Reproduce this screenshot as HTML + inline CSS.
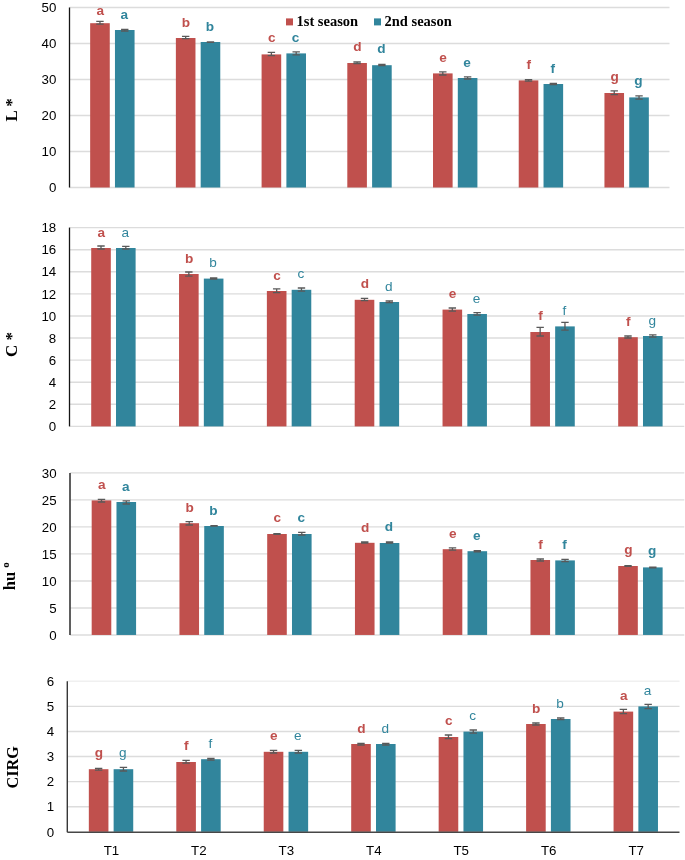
<!DOCTYPE html>
<html><head><meta charset="utf-8"><style>
html,body{margin:0;padding:0;background:#fff;}
svg{display:block;will-change:transform;}
.tk{font-family:"Liberation Sans",sans-serif;font-size:13.3px;fill:#000;}
.lb{font-family:"Liberation Sans",sans-serif;font-size:13.6px;}
.tt{font-family:"Liberation Serif",serif;font-size:17px;font-weight:bold;fill:#000;}
.lg{font-family:"Liberation Serif",serif;font-size:14.5px;font-weight:bold;fill:#000;}
</style></head><body>
<svg width="685" height="860" viewBox="0 0 685 860">
<rect x="0" y="0" width="685" height="860" fill="#fff"/>

<line x1="69.5" y1="7.5" x2="669.5" y2="7.5" stroke="#DCDCDC" stroke-width="1.4"/>
<text class="tk" x="56.4" y="12.2" text-anchor="end">50</text>
<line x1="69.5" y1="43.5" x2="669.5" y2="43.5" stroke="#DCDCDC" stroke-width="1.4"/>
<text class="tk" x="56.4" y="48.2" text-anchor="end">40</text>
<line x1="69.5" y1="79.5" x2="669.5" y2="79.5" stroke="#DCDCDC" stroke-width="1.4"/>
<text class="tk" x="56.4" y="84.2" text-anchor="end">30</text>
<line x1="69.5" y1="115.5" x2="669.5" y2="115.5" stroke="#DCDCDC" stroke-width="1.4"/>
<text class="tk" x="56.4" y="120.2" text-anchor="end">20</text>
<line x1="69.5" y1="151.5" x2="669.5" y2="151.5" stroke="#DCDCDC" stroke-width="1.4"/>
<text class="tk" x="56.4" y="156.2" text-anchor="end">10</text>
<line x1="69.5" y1="187.5" x2="669.5" y2="187.5" stroke="#DCDCDC" stroke-width="1.4"/>
<text class="tk" x="56.4" y="192.2" text-anchor="end">0</text>
<rect x="90.16" y="23.2" width="19.6" height="164.3" fill="#C0504D"/>
<rect x="114.96" y="30" width="19.6" height="157.5" fill="#31859C"/>
<path d="M96.26 21.4H103.66M99.96 21.4V24.2M96.26 24.2H103.66" stroke="#595959" stroke-width="1.3" fill="none"/>
<path d="M121.06 29.4H128.46M124.76 29.4V31M121.06 31H128.46" stroke="#595959" stroke-width="1.3" fill="none"/>
<text class="lb" x="100.26" y="14.7" text-anchor="middle" font-weight="bold" fill="#C0504D">a</text>
<text class="lb" x="124.16" y="18.7" text-anchor="middle" font-weight="bold" fill="#31859C">a</text>
<rect x="175.87" y="38" width="19.6" height="149.5" fill="#C0504D"/>
<rect x="200.67" y="42" width="19.6" height="145.5" fill="#31859C"/>
<path d="M181.97 36.4H189.37M185.67 36.4V38.6M181.97 38.6H189.37" stroke="#595959" stroke-width="1.3" fill="none"/>
<path d="M206.77 41.8H214.17M210.47 41.8V42.4M206.77 42.4H214.17" stroke="#595959" stroke-width="1.3" fill="none"/>
<text class="lb" x="185.97" y="26.7" text-anchor="middle" font-weight="bold" fill="#C0504D">b</text>
<text class="lb" x="209.87" y="30.7" text-anchor="middle" font-weight="bold" fill="#31859C">b</text>
<rect x="261.59" y="54.4" width="19.6" height="133.1" fill="#C0504D"/>
<rect x="286.39" y="53.4" width="19.6" height="134.1" fill="#31859C"/>
<path d="M267.69 52.4H275.09M271.39 52.4V55.6M267.69 55.6H275.09" stroke="#595959" stroke-width="1.3" fill="none"/>
<path d="M292.49 51.8H299.89M296.19 51.8V54.8M292.49 54.8H299.89" stroke="#595959" stroke-width="1.3" fill="none"/>
<text class="lb" x="271.69" y="42.1" text-anchor="middle" font-weight="bold" fill="#C0504D">c</text>
<text class="lb" x="295.59" y="41.7" text-anchor="middle" font-weight="bold" fill="#31859C">c</text>
<rect x="347.3" y="63" width="19.6" height="124.5" fill="#C0504D"/>
<rect x="372.1" y="65.2" width="19.6" height="122.3" fill="#31859C"/>
<path d="M353.4 62H360.8M357.1 62V63.6M353.4 63.6H360.8" stroke="#595959" stroke-width="1.3" fill="none"/>
<path d="M378.2 64.4H385.6M381.9 64.4V65.6M378.2 65.6H385.6" stroke="#595959" stroke-width="1.3" fill="none"/>
<text class="lb" x="357.4" y="51.3" text-anchor="middle" font-weight="bold" fill="#C0504D">d</text>
<text class="lb" x="381.3" y="53.3" text-anchor="middle" font-weight="bold" fill="#31859C">d</text>
<rect x="433.01" y="73.4" width="19.6" height="114.1" fill="#C0504D"/>
<rect x="457.81" y="78" width="19.6" height="109.5" fill="#31859C"/>
<path d="M439.11 71.8H446.51M442.81 71.8V75M439.11 75H446.51" stroke="#595959" stroke-width="1.3" fill="none"/>
<path d="M463.91 76.8H471.31M467.61 76.8V79M463.91 79H471.31" stroke="#595959" stroke-width="1.3" fill="none"/>
<text class="lb" x="443.11" y="62.1" text-anchor="middle" font-weight="bold" fill="#C0504D">e</text>
<text class="lb" x="467.01" y="66.7" text-anchor="middle" font-weight="bold" fill="#31859C">e</text>
<rect x="518.73" y="80.4" width="19.6" height="107.1" fill="#C0504D"/>
<rect x="543.53" y="84" width="19.6" height="103.5" fill="#31859C"/>
<path d="M524.83 79.6H532.23M528.53 79.6V81.2M524.83 81.2H532.23" stroke="#595959" stroke-width="1.3" fill="none"/>
<path d="M549.63 83.4H557.03M553.33 83.4V84.6M549.63 84.6H557.03" stroke="#595959" stroke-width="1.3" fill="none"/>
<text class="lb" x="528.83" y="68.7" text-anchor="middle" font-weight="bold" fill="#C0504D">f</text>
<text class="lb" x="552.73" y="72.7" text-anchor="middle" font-weight="bold" fill="#31859C">f</text>
<rect x="604.44" y="93" width="19.6" height="94.5" fill="#C0504D"/>
<rect x="629.24" y="97.4" width="19.6" height="90.1" fill="#31859C"/>
<path d="M610.54 90.8H617.94M614.24 90.8V94.6M610.54 94.6H617.94" stroke="#595959" stroke-width="1.3" fill="none"/>
<path d="M635.34 95.8H642.74M639.04 95.8V99.2M635.34 99.2H642.74" stroke="#595959" stroke-width="1.3" fill="none"/>
<text class="lb" x="614.54" y="81" text-anchor="middle" font-weight="bold" fill="#C0504D">g</text>
<text class="lb" x="638.44" y="85.4" text-anchor="middle" font-weight="bold" fill="#31859C">g</text>
<line x1="69.5" y1="7.5" x2="69.5" y2="187.5" stroke="#161616" stroke-width="1.3"/>
<text class="tt" transform="translate(16.8,109.8) rotate(-90)" text-anchor="middle">L *</text>
<line x1="69.5" y1="227.6" x2="684.3" y2="227.6" stroke="#DCDCDC" stroke-width="1.4"/>
<text class="tk" x="56.2" y="232.3" text-anchor="end">18</text>
<line x1="69.5" y1="249.69" x2="684.3" y2="249.69" stroke="#DCDCDC" stroke-width="1.4"/>
<text class="tk" x="56.2" y="254.39" text-anchor="end">16</text>
<line x1="69.5" y1="271.78" x2="684.3" y2="271.78" stroke="#DCDCDC" stroke-width="1.4"/>
<text class="tk" x="56.2" y="276.48" text-anchor="end">14</text>
<line x1="69.5" y1="293.87" x2="684.3" y2="293.87" stroke="#DCDCDC" stroke-width="1.4"/>
<text class="tk" x="56.2" y="298.57" text-anchor="end">12</text>
<line x1="69.5" y1="315.96" x2="684.3" y2="315.96" stroke="#DCDCDC" stroke-width="1.4"/>
<text class="tk" x="56.2" y="320.66" text-anchor="end">10</text>
<line x1="69.5" y1="338.04" x2="684.3" y2="338.04" stroke="#DCDCDC" stroke-width="1.4"/>
<text class="tk" x="56.2" y="342.74" text-anchor="end">8</text>
<line x1="69.5" y1="360.13" x2="684.3" y2="360.13" stroke="#DCDCDC" stroke-width="1.4"/>
<text class="tk" x="56.2" y="364.83" text-anchor="end">6</text>
<line x1="69.5" y1="382.22" x2="684.3" y2="382.22" stroke="#DCDCDC" stroke-width="1.4"/>
<text class="tk" x="56.2" y="386.92" text-anchor="end">4</text>
<line x1="69.5" y1="404.31" x2="684.3" y2="404.31" stroke="#DCDCDC" stroke-width="1.4"/>
<text class="tk" x="56.2" y="409.01" text-anchor="end">2</text>
<line x1="69.5" y1="426.4" x2="684.3" y2="426.4" stroke="#DCDCDC" stroke-width="1.4"/>
<text class="tk" x="56.2" y="431.1" text-anchor="end">0</text>
<rect x="91.21" y="248" width="19.6" height="178.4" fill="#C0504D"/>
<rect x="116.01" y="248" width="19.6" height="178.4" fill="#31859C"/>
<path d="M97.31 246H104.71M101.01 246V249M97.31 249H104.71" stroke="#595959" stroke-width="1.3" fill="none"/>
<path d="M122.11 246.4H129.51M125.81 246.4V249M122.11 249H129.51" stroke="#595959" stroke-width="1.3" fill="none"/>
<text class="lb" x="101.31" y="236.7" text-anchor="middle" font-weight="bold" fill="#C0504D">a</text>
<text class="lb" x="125.21" y="236.7" text-anchor="middle" font-weight="normal" fill="#31859C">a</text>
<rect x="179.04" y="274" width="19.6" height="152.4" fill="#C0504D"/>
<rect x="203.84" y="278.6" width="19.6" height="147.8" fill="#31859C"/>
<path d="M185.14 272H192.54M188.84 272V276.2M185.14 276.2H192.54" stroke="#595959" stroke-width="1.3" fill="none"/>
<path d="M209.94 278H217.34M213.64 278V279M209.94 279H217.34" stroke="#595959" stroke-width="1.3" fill="none"/>
<text class="lb" x="189.14" y="262.7" text-anchor="middle" font-weight="bold" fill="#C0504D">b</text>
<text class="lb" x="213.04" y="267.3" text-anchor="middle" font-weight="normal" fill="#31859C">b</text>
<rect x="266.87" y="291" width="19.6" height="135.4" fill="#C0504D"/>
<rect x="291.67" y="289.8" width="19.6" height="136.6" fill="#31859C"/>
<path d="M272.97 288.8H280.37M276.67 288.8V292.6M272.97 292.6H280.37" stroke="#595959" stroke-width="1.3" fill="none"/>
<path d="M297.77 288H305.17M301.47 288V291.2M297.77 291.2H305.17" stroke="#595959" stroke-width="1.3" fill="none"/>
<text class="lb" x="276.97" y="279.7" text-anchor="middle" font-weight="bold" fill="#C0504D">c</text>
<text class="lb" x="300.87" y="278.3" text-anchor="middle" font-weight="normal" fill="#31859C">c</text>
<rect x="354.7" y="299.8" width="19.6" height="126.6" fill="#C0504D"/>
<rect x="379.5" y="302" width="19.6" height="124.4" fill="#31859C"/>
<path d="M360.8 298.4H368.2M364.5 298.4V300.6M360.8 300.6H368.2" stroke="#595959" stroke-width="1.3" fill="none"/>
<path d="M385.6 301H393M389.3 301V302.6M385.6 302.6H393" stroke="#595959" stroke-width="1.3" fill="none"/>
<text class="lb" x="364.8" y="288.1" text-anchor="middle" font-weight="bold" fill="#C0504D">d</text>
<text class="lb" x="388.7" y="290.7" text-anchor="middle" font-weight="normal" fill="#31859C">d</text>
<rect x="442.53" y="309.6" width="19.6" height="116.8" fill="#C0504D"/>
<rect x="467.33" y="314" width="19.6" height="112.4" fill="#31859C"/>
<path d="M448.63 308H456.03M452.33 308V311.2M448.63 311.2H456.03" stroke="#595959" stroke-width="1.3" fill="none"/>
<path d="M473.43 312.6H480.83M477.13 312.6V315.2M473.43 315.2H480.83" stroke="#595959" stroke-width="1.3" fill="none"/>
<text class="lb" x="452.63" y="298.1" text-anchor="middle" font-weight="bold" fill="#C0504D">e</text>
<text class="lb" x="476.53" y="302.7" text-anchor="middle" font-weight="normal" fill="#31859C">e</text>
<rect x="530.36" y="332" width="19.6" height="94.4" fill="#C0504D"/>
<rect x="555.16" y="326.4" width="19.6" height="100" fill="#31859C"/>
<path d="M536.46 327.4H543.86M540.16 327.4V336M536.46 336H543.86" stroke="#595959" stroke-width="1.3" fill="none"/>
<path d="M561.26 322.4H568.66M564.96 322.4V330.2M561.26 330.2H568.66" stroke="#595959" stroke-width="1.3" fill="none"/>
<text class="lb" x="540.46" y="320.1" text-anchor="middle" font-weight="bold" fill="#C0504D">f</text>
<text class="lb" x="564.36" y="314.7" text-anchor="middle" font-weight="normal" fill="#31859C">f</text>
<rect x="618.19" y="337.2" width="19.6" height="89.2" fill="#C0504D"/>
<rect x="642.99" y="336" width="19.6" height="90.4" fill="#31859C"/>
<path d="M624.29 336H631.69M627.99 336V338M624.29 338H631.69" stroke="#595959" stroke-width="1.3" fill="none"/>
<path d="M649.09 334.8H656.49M652.79 334.8V337.2M649.09 337.2H656.49" stroke="#595959" stroke-width="1.3" fill="none"/>
<text class="lb" x="628.29" y="325.7" text-anchor="middle" font-weight="bold" fill="#C0504D">f</text>
<text class="lb" x="652.19" y="324.6" text-anchor="middle" font-weight="normal" fill="#31859C">g</text>
<line x1="69.5" y1="227.6" x2="69.5" y2="426.4" stroke="#161616" stroke-width="1.3"/>
<text class="tt" transform="translate(17.3,344.5) rotate(-90)" text-anchor="middle">C *</text>
<line x1="70" y1="472.9" x2="684.3" y2="472.9" stroke="#DCDCDC" stroke-width="1.4"/>
<text class="tk" x="56.6" y="477.6" text-anchor="end">30</text>
<line x1="70" y1="499.91" x2="684.3" y2="499.91" stroke="#DCDCDC" stroke-width="1.4"/>
<text class="tk" x="56.6" y="504.61" text-anchor="end">25</text>
<line x1="70" y1="526.92" x2="684.3" y2="526.92" stroke="#DCDCDC" stroke-width="1.4"/>
<text class="tk" x="56.6" y="531.62" text-anchor="end">20</text>
<line x1="70" y1="553.92" x2="684.3" y2="553.92" stroke="#DCDCDC" stroke-width="1.4"/>
<text class="tk" x="56.6" y="558.62" text-anchor="end">15</text>
<line x1="70" y1="580.93" x2="684.3" y2="580.93" stroke="#DCDCDC" stroke-width="1.4"/>
<text class="tk" x="56.6" y="585.63" text-anchor="end">10</text>
<line x1="70" y1="607.94" x2="684.3" y2="607.94" stroke="#DCDCDC" stroke-width="1.4"/>
<text class="tk" x="56.6" y="612.64" text-anchor="end">5</text>
<line x1="70" y1="634.95" x2="684.3" y2="634.95" stroke="#DCDCDC" stroke-width="1.4"/>
<text class="tk" x="56.6" y="639.65" text-anchor="end">0</text>
<rect x="91.68" y="500.4" width="19.6" height="134.55" fill="#C0504D"/>
<rect x="116.48" y="502" width="19.6" height="132.95" fill="#31859C"/>
<path d="M97.78 499.4H105.18M101.48 499.4V502M97.78 502H105.18" stroke="#595959" stroke-width="1.3" fill="none"/>
<path d="M122.58 500.8H129.98M126.28 500.8V504M122.58 504H129.98" stroke="#595959" stroke-width="1.3" fill="none"/>
<text class="lb" x="101.78" y="489.3" text-anchor="middle" font-weight="bold" fill="#C0504D">a</text>
<text class="lb" x="125.68" y="490.7" text-anchor="middle" font-weight="bold" fill="#31859C">a</text>
<rect x="179.44" y="523.2" width="19.6" height="111.75" fill="#C0504D"/>
<rect x="204.24" y="526" width="19.6" height="108.95" fill="#31859C"/>
<path d="M185.54 521.6H192.94M189.24 521.6V525M185.54 525H192.94" stroke="#595959" stroke-width="1.3" fill="none"/>
<path d="M210.34 525.6H217.74M214.04 525.6V526.2M210.34 526.2H217.74" stroke="#595959" stroke-width="1.3" fill="none"/>
<text class="lb" x="189.54" y="512.3" text-anchor="middle" font-weight="bold" fill="#C0504D">b</text>
<text class="lb" x="213.44" y="514.7" text-anchor="middle" font-weight="bold" fill="#31859C">b</text>
<rect x="267.19" y="534" width="19.6" height="100.95" fill="#C0504D"/>
<rect x="291.99" y="534" width="19.6" height="100.95" fill="#31859C"/>
<path d="M273.29 533.6H280.69M276.99 533.6V534.4M273.29 534.4H280.69" stroke="#595959" stroke-width="1.3" fill="none"/>
<path d="M298.09 532.4H305.49M301.79 532.4V535M298.09 535H305.49" stroke="#595959" stroke-width="1.3" fill="none"/>
<text class="lb" x="277.29" y="522.3" text-anchor="middle" font-weight="bold" fill="#C0504D">c</text>
<text class="lb" x="301.19" y="522.1" text-anchor="middle" font-weight="bold" fill="#31859C">c</text>
<rect x="354.95" y="542.8" width="19.6" height="92.15" fill="#C0504D"/>
<rect x="379.75" y="543" width="19.6" height="91.95" fill="#31859C"/>
<path d="M361.05 542H368.45M364.75 542V543M361.05 543H368.45" stroke="#595959" stroke-width="1.3" fill="none"/>
<path d="M385.85 542H393.25M389.55 542V543.2M385.85 543.2H393.25" stroke="#595959" stroke-width="1.3" fill="none"/>
<text class="lb" x="365.05" y="531.7" text-anchor="middle" font-weight="bold" fill="#C0504D">d</text>
<text class="lb" x="388.95" y="531.1" text-anchor="middle" font-weight="bold" fill="#31859C">d</text>
<rect x="442.71" y="549.2" width="19.6" height="85.75" fill="#C0504D"/>
<rect x="467.51" y="551.2" width="19.6" height="83.75" fill="#31859C"/>
<path d="M448.81 547.8H456.21M452.51 547.8V550.2M448.81 550.2H456.21" stroke="#595959" stroke-width="1.3" fill="none"/>
<path d="M473.61 550.6H481.01M477.31 550.6V551.8M473.61 551.8H481.01" stroke="#595959" stroke-width="1.3" fill="none"/>
<text class="lb" x="452.81" y="537.7" text-anchor="middle" font-weight="bold" fill="#C0504D">e</text>
<text class="lb" x="476.71" y="539.7" text-anchor="middle" font-weight="bold" fill="#31859C">e</text>
<rect x="530.46" y="560" width="19.6" height="74.95" fill="#C0504D"/>
<rect x="555.26" y="560.4" width="19.6" height="74.55" fill="#31859C"/>
<path d="M536.56 559H543.96M540.26 559V561M536.56 561H543.96" stroke="#595959" stroke-width="1.3" fill="none"/>
<path d="M561.36 559.4H568.76M565.06 559.4V561.6M561.36 561.6H568.76" stroke="#595959" stroke-width="1.3" fill="none"/>
<text class="lb" x="540.56" y="548.7" text-anchor="middle" font-weight="bold" fill="#C0504D">f</text>
<text class="lb" x="564.46" y="548.7" text-anchor="middle" font-weight="bold" fill="#31859C">f</text>
<rect x="618.22" y="566" width="19.6" height="68.95" fill="#C0504D"/>
<rect x="643.02" y="567.4" width="19.6" height="67.55" fill="#31859C"/>
<path d="M624.32 565.6H631.72M628.02 565.6V566.4M624.32 566.4H631.72" stroke="#595959" stroke-width="1.3" fill="none"/>
<path d="M649.12 567.2H656.52M652.82 567.2V567.8M649.12 567.8H656.52" stroke="#595959" stroke-width="1.3" fill="none"/>
<text class="lb" x="628.32" y="554" text-anchor="middle" font-weight="bold" fill="#C0504D">g</text>
<text class="lb" x="652.22" y="555.4" text-anchor="middle" font-weight="bold" fill="#31859C">g</text>
<line x1="70" y1="472.9" x2="70" y2="634.95" stroke="#363636" stroke-width="1.6"/>
<text class="tt" style="font-size:16.5px" transform="translate(15,576.2) rotate(-90)" text-anchor="middle">hu <tspan font-size="11px" dy="-6.3">o</tspan></text>
<line x1="67.3" y1="681.3" x2="679.5" y2="681.3" stroke="#F0F0F0" stroke-width="1.4"/>
<text class="tk" x="54.2" y="686" text-anchor="end">6</text>
<line x1="67.3" y1="706.38" x2="679.5" y2="706.38" stroke="#DCDCDC" stroke-width="1.4"/>
<text class="tk" x="54.2" y="711.08" text-anchor="end">5</text>
<line x1="67.3" y1="731.47" x2="679.5" y2="731.47" stroke="#DCDCDC" stroke-width="1.4"/>
<text class="tk" x="54.2" y="736.17" text-anchor="end">4</text>
<line x1="67.3" y1="756.55" x2="679.5" y2="756.55" stroke="#DCDCDC" stroke-width="1.4"/>
<text class="tk" x="54.2" y="761.25" text-anchor="end">3</text>
<line x1="67.3" y1="781.63" x2="679.5" y2="781.63" stroke="#DCDCDC" stroke-width="1.4"/>
<text class="tk" x="54.2" y="786.33" text-anchor="end">2</text>
<line x1="67.3" y1="806.72" x2="679.5" y2="806.72" stroke="#DCDCDC" stroke-width="1.4"/>
<text class="tk" x="54.2" y="811.42" text-anchor="end">1</text>
<text class="tk" x="54.2" y="836.5" text-anchor="end">0</text>
<rect x="88.83" y="769.2" width="19.6" height="62.6" fill="#C0504D"/>
<rect x="113.63" y="769.2" width="19.6" height="62.6" fill="#31859C"/>
<path d="M94.93 768.4H102.33M98.63 768.4V770.2M94.93 770.2H102.33" stroke="#595959" stroke-width="1.3" fill="none"/>
<path d="M119.73 767.4H127.13M123.43 767.4V771M119.73 771H127.13" stroke="#595959" stroke-width="1.3" fill="none"/>
<text class="lb" x="98.93" y="757" text-anchor="middle" font-weight="bold" fill="#C0504D">g</text>
<text class="lb" x="122.83" y="757" text-anchor="middle" font-weight="normal" fill="#31859C">g</text>
<rect x="176.29" y="762" width="19.6" height="69.8" fill="#C0504D"/>
<rect x="201.09" y="759.2" width="19.6" height="72.6" fill="#31859C"/>
<path d="M182.39 760.4H189.79M186.09 760.4V763.2M182.39 763.2H189.79" stroke="#595959" stroke-width="1.3" fill="none"/>
<path d="M207.19 758.4H214.59M210.89 758.4V760M207.19 760H214.59" stroke="#595959" stroke-width="1.3" fill="none"/>
<text class="lb" x="186.39" y="749.7" text-anchor="middle" font-weight="bold" fill="#C0504D">f</text>
<text class="lb" x="210.29" y="747.7" text-anchor="middle" font-weight="normal" fill="#31859C">f</text>
<rect x="263.74" y="751.8" width="19.6" height="80" fill="#C0504D"/>
<rect x="288.54" y="751.8" width="19.6" height="80" fill="#31859C"/>
<path d="M269.84 750.4H277.24M273.54 750.4V753M269.84 753H277.24" stroke="#595959" stroke-width="1.3" fill="none"/>
<path d="M294.64 750.4H302.04M298.34 750.4V753M294.64 753H302.04" stroke="#595959" stroke-width="1.3" fill="none"/>
<text class="lb" x="273.84" y="740.3" text-anchor="middle" font-weight="bold" fill="#C0504D">e</text>
<text class="lb" x="297.74" y="740.3" text-anchor="middle" font-weight="normal" fill="#31859C">e</text>
<rect x="351.2" y="744" width="19.6" height="87.8" fill="#C0504D"/>
<rect x="376" y="744" width="19.6" height="87.8" fill="#31859C"/>
<path d="M357.3 743.4H364.7M361 743.4V745M357.3 745H364.7" stroke="#595959" stroke-width="1.3" fill="none"/>
<path d="M382.1 743.4H389.5M385.8 743.4V745M382.1 745H389.5" stroke="#595959" stroke-width="1.3" fill="none"/>
<text class="lb" x="361.3" y="732.7" text-anchor="middle" font-weight="bold" fill="#C0504D">d</text>
<text class="lb" x="385.2" y="732.7" text-anchor="middle" font-weight="normal" fill="#31859C">d</text>
<rect x="438.66" y="737" width="19.6" height="94.8" fill="#C0504D"/>
<rect x="463.46" y="731.6" width="19.6" height="100.2" fill="#31859C"/>
<path d="M444.76 735H452.16M448.46 735V738.6M444.76 738.6H452.16" stroke="#595959" stroke-width="1.3" fill="none"/>
<path d="M469.56 730H476.96M473.26 730V733.2M469.56 733.2H476.96" stroke="#595959" stroke-width="1.3" fill="none"/>
<text class="lb" x="448.76" y="725.3" text-anchor="middle" font-weight="bold" fill="#C0504D">c</text>
<text class="lb" x="472.66" y="720.3" text-anchor="middle" font-weight="normal" fill="#31859C">c</text>
<rect x="526.11" y="724" width="19.6" height="107.8" fill="#C0504D"/>
<rect x="550.91" y="719" width="19.6" height="112.8" fill="#31859C"/>
<path d="M532.21 723H539.61M535.91 723V725M532.21 725H539.61" stroke="#595959" stroke-width="1.3" fill="none"/>
<path d="M557.01 718H564.41M560.71 718V719.6M557.01 719.6H564.41" stroke="#595959" stroke-width="1.3" fill="none"/>
<text class="lb" x="536.21" y="713.3" text-anchor="middle" font-weight="bold" fill="#C0504D">b</text>
<text class="lb" x="560.11" y="708.3" text-anchor="middle" font-weight="normal" fill="#31859C">b</text>
<rect x="613.57" y="711.6" width="19.6" height="120.2" fill="#C0504D"/>
<rect x="638.37" y="706.4" width="19.6" height="125.4" fill="#31859C"/>
<path d="M619.67 709.4H627.07M623.37 709.4V713.6M619.67 713.6H627.07" stroke="#595959" stroke-width="1.3" fill="none"/>
<path d="M644.47 704.4H651.87M648.17 704.4V708.6M644.47 708.6H651.87" stroke="#595959" stroke-width="1.3" fill="none"/>
<text class="lb" x="623.67" y="699.7" text-anchor="middle" font-weight="bold" fill="#C0504D">a</text>
<text class="lb" x="647.57" y="695.1" text-anchor="middle" font-weight="normal" fill="#31859C">a</text>
<line x1="67.3" y1="681.3" x2="67.3" y2="832.3" stroke="#383838" stroke-width="1.4"/>
<line x1="67.3" y1="832.2" x2="679.5" y2="832.2" stroke="#474747" stroke-width="1.5"/>
<text class="tt" style="font-size:16.2px" transform="translate(18.2,767.3) rotate(-90)" text-anchor="middle">CIRG</text>
<text class="tk" x="111.43" y="855.3" text-anchor="middle">T1</text>
<text class="tk" x="198.89" y="855.3" text-anchor="middle">T2</text>
<text class="tk" x="286.34" y="855.3" text-anchor="middle">T3</text>
<text class="tk" x="373.8" y="855.3" text-anchor="middle">T4</text>
<text class="tk" x="461.26" y="855.3" text-anchor="middle">T5</text>
<text class="tk" x="548.71" y="855.3" text-anchor="middle">T6</text>
<text class="tk" x="636.17" y="855.3" text-anchor="middle">T7</text>
<rect x="286" y="18.4" width="7" height="7" fill="#C0504D"/>
<text class="lg" x="296.5" y="26.2">1st season</text>
<rect x="374" y="18.4" width="7" height="7" fill="#31859C"/>
<text class="lg" x="384.5" y="26.2">2nd season</text>
</svg>
</body></html>
